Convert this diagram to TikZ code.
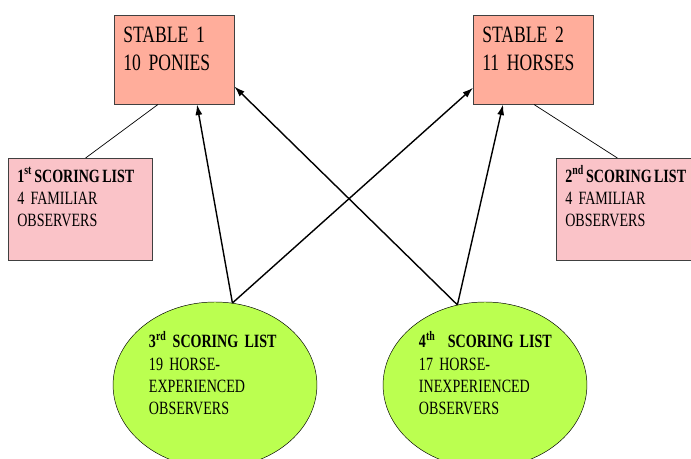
\documentclass[tikz,border=0pt]{standalone}
\usepackage{fontspec}
\setmainfont{Liberation Serif}[FakeStretch=0.75]
\usepackage{xcolor}
\usetikzlibrary{shapes.geometric,arrows.meta}

\definecolor{stablefill}{RGB}{255,173,155}
\definecolor{scoringfill}{RGB}{250,195,200}
\definecolor{groupfill}{RGB}{187,255,80}

\begin{document}
\begin{tikzpicture}[x=0.03cm, y=-0.03cm, >={Latex[length=9pt,width=6pt]},
    stable/.style = {draw=black!75, fill=stablefill, anchor=north west, align=left, inner xsep=7.7pt, inner ysep=10pt, text width=87pt, text height=13.5pt, text depth=42.5pt, font=\fontsize{20}{24}\selectfont},
    scoring/.style = {draw=black!75, fill=scoringfill, anchor=north west, align=left, inner xsep=7.7pt, inner ysep=10pt, text width=107.5pt, text height=10.5pt, text depth=56.5pt, font=\fontsize{16}{18.8}\selectfont},
    observers/.style = {draw, ellipse, fill=groupfill, inner sep=0pt, minimum width=174pt, minimum height=141.7pt, align=left, text width=112.7pt, text height=10.5pt, text depth=73.7pt, font=\fontsize{16}{18.8}\selectfont},
    link/.style = {line width=0.6pt},
    pick/.style = {->, line width=1.2pt}]
      \useasboundingbox (0,0) rectangle (691,459);
      \clip (0,0) rectangle (691,459);

      \node[stable] (s_1) at (114,15) {STABLE 1\\10 PONIES};
      \node[stable] (s_2) at (473,15) {STABLE 2\\11 HORSES};
      \node[scoring] (l_1) at (8,158) {\mbox{\textbf{1\textsuperscript{st}\hspace{2pt}SCORING\hspace{2pt}LIST}}\\4 FAMILIAR\\OBSERVERS};
      \node[scoring] (l_2) at (556,158) {\mbox{\textbf{2\textsuperscript{nd}\hspace{2pt}SCORING\hspace{2pt}LIST}}\\4 FAMILIAR\\OBSERVERS};
      \node[observers] (l_3) at (215,385) {\mbox{\textbf{3\textsuperscript{rd} SCORING LIST}}\\19 HORSE-\\EXPERIENCED\\OBSERVERS};
      \node[observers] (l_4) at (485,385) {\mbox{\textbf{4\textsuperscript{th} \ SCORING LIST}}\\17 HORSE-\\INEXPERIENCED\\OBSERVERS};

      \draw[link] (s_1.-110) -- (l_1.84);
      \draw[link] (s_2.-89) -- (l_2.102);

      \draw[pick] (l_3.78) -- (s_1.-63);
      \draw[pick] (l_3.78) -- (s_2.-155);
      \draw[pick] (l_4.109) -- (s_1.-24);
      \draw[pick] (l_4.109) -- (s_2.-124);
    \end{tikzpicture}
\end{document}
